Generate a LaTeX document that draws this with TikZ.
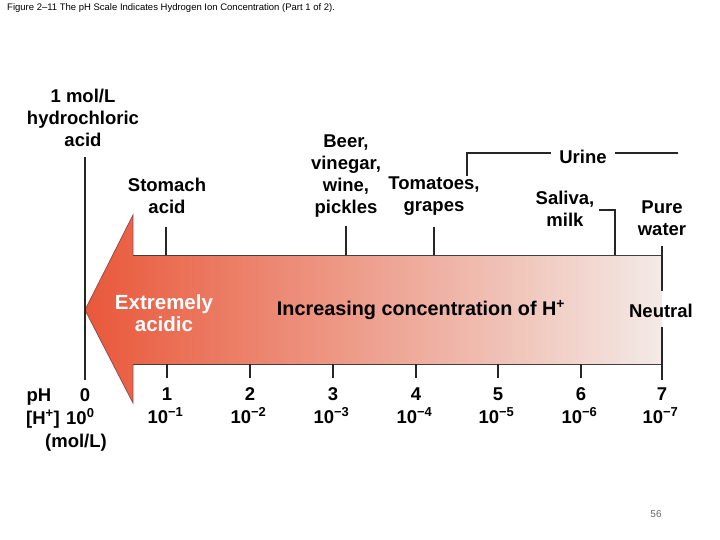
\documentclass[tikz,border=0pt]{standalone}
\usepackage{fontspec}
\setmainfont{Liberation Sans}
\definecolor{arrL}{RGB}{233,88,58}
\definecolor{arrM}{RGB}{240,160,135}
\definecolor{arrR}{RGB}{243,234,230}
\tikzset{
  lbl/.style={font=\fontsize{18.5}{22}\selectfont\bfseries, align=center, inner sep=0pt},
  tickline/.style={line width=2.5pt, black!85},
  brk/.style={line width=2pt, black!85},
}
\newcommand{\msup}[1]{\textsuperscript{−#1}}
\begin{document}
\begin{tikzpicture}[x=1pt,y=-1pt]
\path[use as bounding box] (0,0) rectangle (720,540);
% title
\node[anchor=west, font=\fontsize{9.5}{10}\selectfont, inner sep=0pt] (title) at (7,8) {Figure 2–11 The pH Scale Indicates Hydrogen Ion Concentration (Part 1 of 2).};
% arrow
\path[left color=arrL, middle color=arrM, right color=arrR] (85,310) -- (133,215) -- (133,255) -- (662,255) -- (662,364) -- (133,364) -- (133,403) -- cycle;
\draw[line width=1pt, black!75] (133,255) -- (662,255);
\draw[line width=1pt, black!75] (133,364) -- (662,364);
\draw[line width=0.8pt, red!40!black!70] (133,255) -- (133,215) -- (85,310) -- (133,403) -- (133,364);
% pH 0 line
\coordinate (z0) at (85,157);
\coordinate (z1) at (85,380);
\draw[tickline] (z0) -- (z1);
% top labels
\node[lbl] (hcl) at (83,118) {1 mol/L\\hydrochloric\\acid};
\node[lbl] (stom) at (167,196) {Stomach\\acid};
\node[lbl] (beer) at (346,176) {Beer,\\vinegar,\\wine,\\pickles};
\node[lbl] (tom) at (434,196) {Tomatoes,\\grapes};
\node[lbl] (sal) at (565,209) {Saliva,\\milk};
\node[lbl] (pure) at (662,218) {Pure\\water};
\node[lbl, inner xsep=8pt] (urine) at (583,157) {Urine};
% top ticks
\coordinate (st1) at (166,227); \coordinate (st2) at (166,255);
\draw[tickline] (st1) -- (st2);
\coordinate (be1) at (346,226); \coordinate (be2) at (346,255);
\draw[tickline] (be1) -- (be2);
\coordinate (to1) at (434,227); \coordinate (to2) at (434,255);
\draw[tickline] (to1) -- (to2);
\coordinate (sa0) at (599,210); \coordinate (sa1) at (615,210); \coordinate (sa2) at (615,255);
\draw[brk] (sa0) -- (sa1) -- (sa2);
\coordinate (ur0) at (467,176); \coordinate (ur1) at (467,153);
\draw[brk] (ur0) -- (ur1) -- (ur1 -| urine.west);
\coordinate (ur2) at (678,153);
\draw[brk] (ur2 -| urine.east) -- (ur2);
% neutral
\node[lbl] (neut) at (661,311) {Neutral};
\coordinate (n0) at (662,246); \coordinate (n1) at (662,380);
\coordinate (n2) at (662,291); \coordinate (n3) at (662,327);
\draw[tickline] (n0) -- (n2);
\draw[tickline] (n3) -- (n1);
% arrow texts
\node[lbl, text=white, font=\fontsize{20.5}{22}\selectfont\bfseries] (ext) at (164,313) {Extremely\\acidic};
\node[lbl, font=\fontsize{19.8}{22}\selectfont\bfseries] (inc) at (421,310) {Increasing concentration of H\textsuperscript{+}};
% bottom ticks and labels
\foreach \i/\x in {1/167,2/250,3/333,4/416,5/498,6/581} {
  \coordinate (bt\i a) at (\x,364); \coordinate (bt\i b) at (\x,378);
  \draw[tickline] (bt\i a) -- (bt\i b);
}
\foreach \i/\x in {1/167,2/250,3/333,4/416,5/498,6/581,7/662} {
  \node[lbl, anchor=base] (ph\i) at (\x,400) {\i};
  \node[lbl, anchor=base] (hc\i) at (\x-1.5,423) {10\msup{\i}};
}
\node[lbl, anchor=base] (phl) at (39,401) {pH};
\node[lbl, anchor=base] (ph0) at (85,401) {0};
\node[lbl, anchor=base] (hpl) at (43,424) {[H\textsuperscript{+}]};
\node[lbl, anchor=base west] (hc0) at (66,424) {10\textsuperscript{0}};
\node[lbl, anchor=base] (mol) at (76,447) {(mol/L)};
% page number
\node[font=\fontsize{10}{11}\selectfont, text=black!60, inner sep=0pt] (pg) at (656,514) {56};
\end{tikzpicture}
\end{document}
